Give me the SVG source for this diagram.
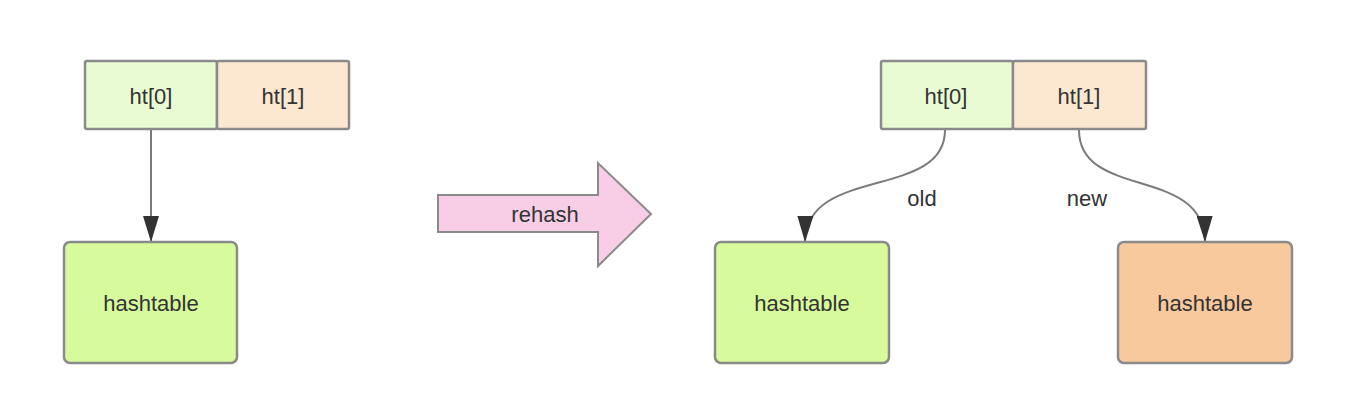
<svg xmlns="http://www.w3.org/2000/svg" width="1356" height="418" viewBox="0 0 1356 418">
<style>
.t{font-family:"Liberation Sans",Arial,sans-serif;font-size:22px;fill:#333;text-anchor:middle;dominant-baseline:central}
.b{stroke:#8a8a8a;stroke-width:2.5}
.g0{fill:#e9fbd3}
.o1{fill:#fce7d1}
.hg{fill:#d6fa9c}
.ho{fill:#f8c99c}
.c{fill:none;stroke:#7a7a7a;stroke-width:2}
</style>
<defs>
<marker id="ah2" viewBox="0 0 26 16" refX="26" refY="8" markerWidth="26" markerHeight="16" markerUnits="userSpaceOnUse" orient="auto">
<path d="M0,0 L26,8 L0,16 Z" fill="#333"/>
</marker>
</defs>
<g id="connectors">
<line class="c" x1="151" y1="130" x2="151" y2="242" marker-end="url(#ah2)"/>
<path class="c" d="M945,130 C945,200 806,165 805,242" marker-end="url(#ah2)"/>
<path class="c" d="M1079,130 C1079,200 1204,165 1205,242" marker-end="url(#ah2)"/>
<text class="t" x="922" y="198">old</text>
<text class="t" x="1087" y="198">new</text>
</g>
<g id="left-ht">
<rect class="b g0" x="85" y="61" width="132" height="68" rx="2"/>
<rect class="b o1" x="217" y="61" width="132" height="68" rx="2"/>
<text class="t" x="151" y="96">ht[0]</text>
<text class="t" x="283" y="96">ht[1]</text>
</g>
<g id="left-hashtable">
<rect class="b hg" x="64" y="242" width="173" height="121" rx="6"/>
<text class="t" x="151" y="303">hashtable</text>
</g>
<g id="rehash">
<path d="M438,195 L598,195 L598,163 L651,214 L598,266 L598,232 L438,232 Z" fill="#f8cde6" stroke="#8a8a8a" stroke-width="2"/>
<text class="t" x="545" y="214">rehash</text>
</g>
<g id="right-ht">
<rect class="b g0" x="881" y="61" width="132" height="68" rx="2"/>
<rect class="b o1" x="1013" y="61" width="133" height="68" rx="2"/>
<text class="t" x="946" y="96">ht[0]</text>
<text class="t" x="1079" y="96">ht[1]</text>
</g>
<g id="right-hashtable-old">
<rect class="b hg" x="715" y="242" width="174" height="121" rx="6"/>
<text class="t" x="802" y="303">hashtable</text>
</g>
<g id="right-hashtable-new">
<rect class="b ho" x="1118" y="242" width="174" height="121" rx="6"/>
<text class="t" x="1205" y="303">hashtable</text>
</g>
</svg>
